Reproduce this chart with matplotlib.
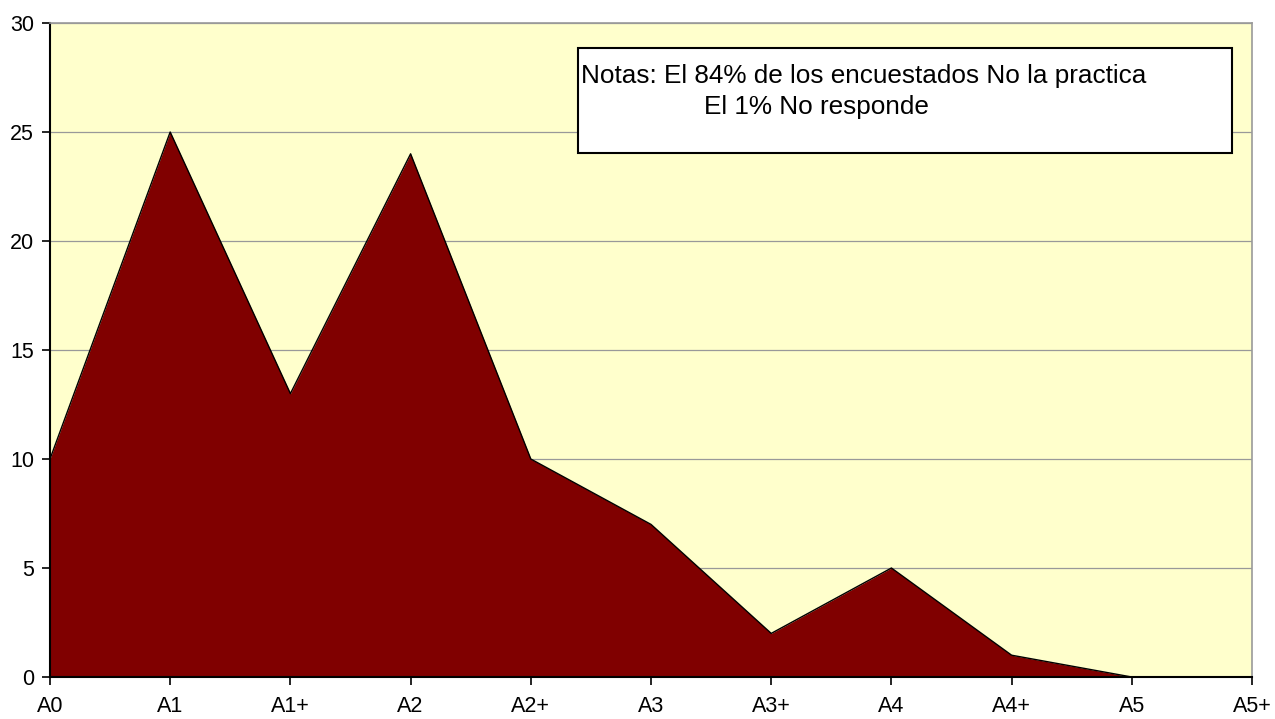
import matplotlib
matplotlib.use("Agg")
import matplotlib.pyplot as plt
from matplotlib.patches import Rectangle

categories = ["A0", "A1", "A1+", "A2", "A2+", "A3", "A3+", "A4", "A4+", "A5", "A5+"]
values = [10, 25, 13, 24, 10, 7, 2, 5, 1, 0, 0]
yticks = [0, 5, 10, 15, 20, 25, 30]
note_line1 = "Notas: El 84% de los encuestados No la practica"
note_line2 = "El 1% No responde"

plt.rcParams['font.family'] = ['Liberation Sans', 'DejaVu Sans']

fig = plt.figure(figsize=(12.75, 7.19), dpi=100)
ax = fig.add_axes([0.0392, 0.0584, 0.9428, 0.9096])
ax.set_facecolor('#FFFFCC')

x = list(range(len(categories)))
ax.fill_between(x, values, 0, color='#800000', linewidth=0, zorder=2)
ax.plot(x, values, color='black', linewidth=1.0, zorder=3)

ax.set_xlim(0, len(categories) - 1)
ax.set_ylim(0, 30)
ax.set_yticks(yticks)
ax.set_xticks(x)
ax.set_xticklabels(categories)
ax.tick_params(axis='both', labelsize=15.5, direction='out', length=5.5, color='black', width=1.2)
ax.tick_params(axis='x', pad=8.5)
ax.tick_params(axis='y', pad=6)
ax.yaxis.grid(True, color='#999999', linewidth=0.9, zorder=1)
ax.set_axisbelow(True)

for s in ['top', 'right']:
    ax.spines[s].set_color('#999999')
    ax.spines[s].set_linewidth(1.2)
for s in ['left', 'bottom']:
    ax.spines[s].set_color('black')
    ax.spines[s].set_linewidth(1.5)
ax.spines['bottom'].set_zorder(4)

box = Rectangle((0.439, 0.801), 0.544, 0.161, transform=ax.transAxes,
                facecolor='white', edgecolor='black', linewidth=1.5, zorder=5)
ax.add_patch(box)
ax.text(0.4415, 0.919, note_line1, transform=ax.transAxes,
        fontsize=18.8, va='center', ha='left', zorder=6)
ax.text(0.544, 0.872, note_line2, transform=ax.transAxes,
        fontsize=18.8, va='center', ha='left', zorder=6)

fig.savefig("out.png", dpi=100)
